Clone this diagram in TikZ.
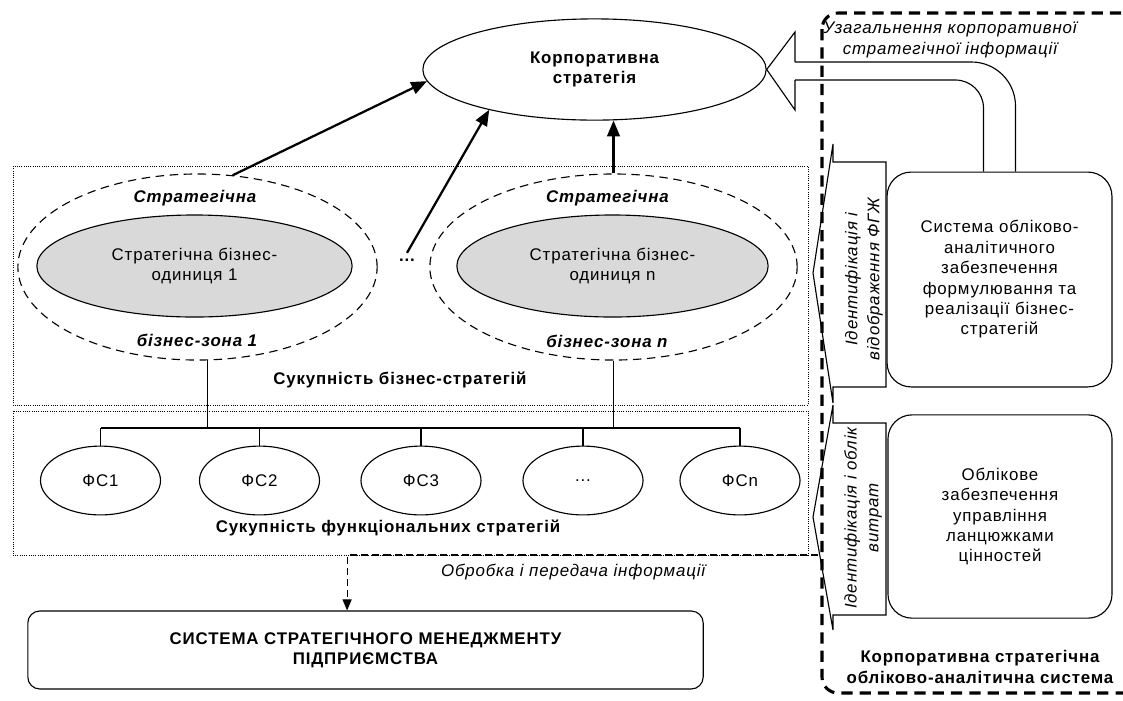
\documentclass[tikz,border=0pt]{standalone}
\usepackage{fontspec}
\setmainfont{Liberation Sans}[LetterSpace=5]
\usetikzlibrary{shapes}
\usetikzlibrary{arrows}
\usetikzlibrary{positioning}
\usetikzlibrary{calc}
\tikzstyle{strategie}=[ellipse,draw,line width=0.8pt,inner sep=0pt,align=center]
\tikzstyle{zone}=[ellipse,draw,line width=0.8pt,dash pattern=on 6pt off 4pt,inner sep=0pt]
\tikzstyle{unite}=[ellipse,draw,line width=0.8pt,fill=gray!30,inner sep=0pt,align=center,minimum height=2.55cm]
\tikzstyle{fonc}=[ellipse,draw,line width=0.8pt,inner sep=0pt,minimum width=3cm,minimum height=1.72cm]
\tikzstyle{ensemble}=[draw,densely dotted,line width=0.6pt]
\tikzstyle{boite}=[rectangle,draw,line width=0.8pt,rounded corners=0.6cm,align=center]
\tikzstyle{fleche}=[->,>=triangle 45,line width=1.6pt]
\tikzstyle{flux}=[->,>=triangle 45,line width=0.8pt,dash pattern=on 5pt off 3pt]
\tikzstyle{titre}=[font=\bfseries,align=center]
\tikzstyle{zonetxt}=[font=\bfseries\itshape]
\tikzstyle{ligne}=[line width=0.8pt]
\tikzstyle{cadre}=[draw,line width=2.2pt,dash pattern=on 8pt off 5pt,rounded corners=0.4cm]
\tikzstyle{vertical}=[rotate=90,align=center,font=\itshape\fontsize{12}{15.5}\selectfont]
\begin{document}
\fontsize{12}{14.5}\selectfont
\begin{tikzpicture}[x=0.025cm,y=-0.025cm]
\useasboundingbox (0,0) rectangle (1123,700);
%ensembles
\draw[ensemble] (13,166) rectangle (808,405);
\draw[ensemble] (13,411) rectangle (808,555);
\node[strategie,titre,minimum width=8.58cm,minimum height=2.53cm] (corp) at (594.5,69.5) {Корпоративна\\стратегія};
\node[zone,minimum width=8.98cm,minimum height=4.65cm] (zonea) at (197.5,267) {};
\node[unite,minimum width=7.88cm] (sbua) at (194.5,266) {Стратегічна бізнес-\\одиниця 1};
\node[zonetxt] (za-haut) at (195,198) {Стратегічна};
\node[zonetxt] (za-bas) at (197,340) {бізнес-зона 1};
\node[zone,minimum width=9.18cm,minimum height=4.65cm] (zonen) at (613.5,267) {};
\node[unite,minimum width=7.78cm] (sbun) at (612.5,266) {Стратегічна бізнес-\\одиниця n};
\node[zonetxt] (zn-haut) at (607.5,198) {Стратегічна};
\node[zonetxt] (zn-bas) at (607,341) {бізнес-зона n};
\node[titre] (points) at (407,260) {...};
\node[titre] (bs-txt) at (400,380) {Сукупність бізнес-стратегій};
\coordinate (bus) at (0,428);
\node[fonc] (fs1) at (100.5,480.5) {ФС1};
\node[fonc] (fs2) at (259.5,480.5) {ФС2};
\node[fonc] (fs3) at (421,480.5) {ФС3};
\node[fonc] (fs4) at (583,480.5) {...};
\node[fonc] (fs5) at (740,480.5) {ФСn};
\node[titre] (fs-txt) at (388,528) {Сукупність функціональних стратегій};
\node[boite,titre,rounded corners=0.3cm,minimum width=16.88cm,minimum height=1.95cm] (sms) at (365.5,650) {СИСТЕМА СТРАТЕГІЧНОГО МЕНЕДЖМЕНТУ\\ПІДПРИЄМСТВА};
%systeme comptable
\node[boite,minimum width=5.62cm,minimum height=5.37cm] (sys) at (999.5,279.5) {Система обліково-\\аналітичного\\забезпечення\\формулювання та\\реалізації бізнес-\\стратегій};
\node[boite,minimum width=5.6cm,minimum height=5.08cm] (chaine) at (1000,516.5) {Облікове\\забезпечення\\управління\\ланцюжками\\цінностей};
\draw[ligne] (886,162) -- (833,162) -- (833,144) -- (813,273) -- (833,403) -- (833,387) -- (886,387) -- cycle;
\node[vertical] (idfgj) at (864,279) {Ідентифікація і\\відображення ФГЖ};
\draw[ligne] (886,423) -- (833,423) -- (833,405) -- (813,517) -- (833,630) -- (833,615) -- (886,615) -- cycle;
\node[vertical] (idcout) at (863,518) {Ідентифікація і облік\\витрат};
%grande fleche
\draw[ligne,rounded corners=1.1cm] ([xshift=0.4cm]sys.north) |- (795,62);
\draw[ligne] (795,62) -- (795,32) -- (corp.east) -- (795,110) -- (795,80);
\draw[ligne,rounded corners=0.7cm] ([xshift=-0.4cm]sys.north) |- (795,80);
\node[font=\itshape,align=center] (synth) at (950,40) {Узагальнення корпоративної\\стратегічної інформації};
\draw[cadre] (822,13) rectangle (1160,693);
\node[titre] (cadre-txt) at (980,667) {Корпоративна стратегічна\\обліково-аналітична система};
%Placement des fleches
\draw[fleche] (zonea.69) -- (corp.184);
\draw[fleche] (points.north) -- (corp.201);
\draw[fleche] (zonen.north) -- (zonen.north |- corp.south);
\draw[ligne] (zonea.-84) -- (zonea.-84 |- bus);
\draw[ligne] (zonen.south) -- (zonen.south |- bus);
\draw[ligne] (fs1.north |- bus) -- (fs5.north |- bus);
\foreach \i in {1,...,5} \draw[ligne] (fs\i.north) -- (fs\i.north |- bus);
\coordinate (depart) at (818,555);
\draw[flux] (depart) -| ([xshift=-0.46cm]sms.north) node[pos=0.26,below=2pt,font=\itshape] (traitement) {Обробка і передача інформації};
\end{tikzpicture}
\end{document}
